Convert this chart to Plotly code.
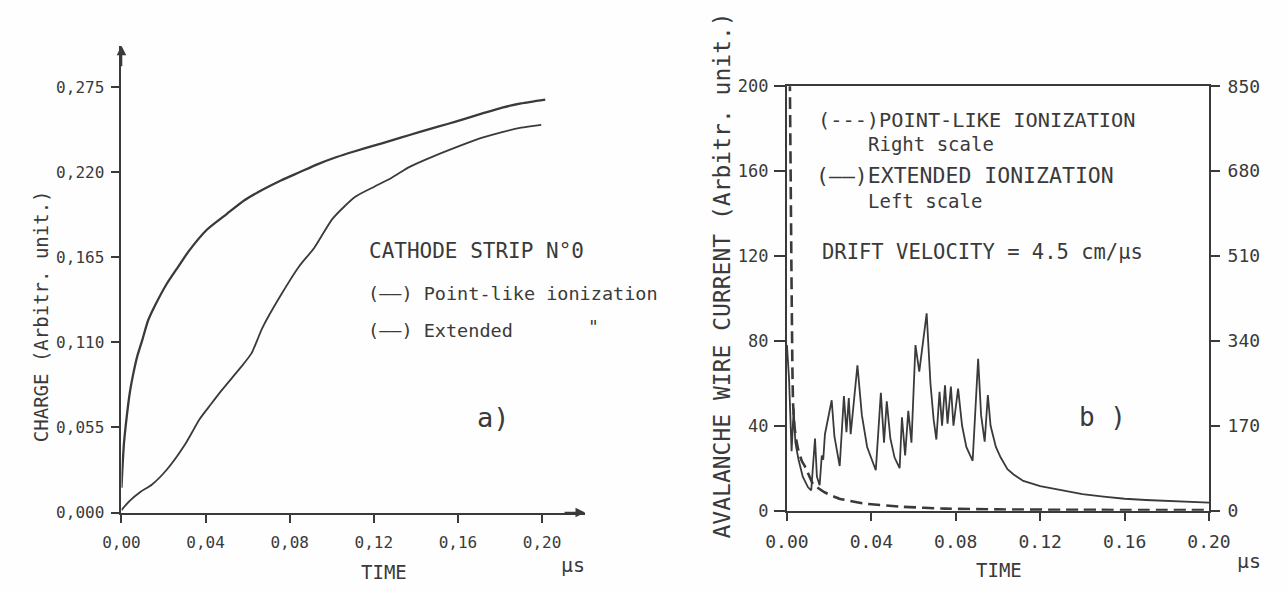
import plotly.graph_objects as go

W, H = 1288, 592
INK = "#3a3a3a"
FONT = "DejaVu Sans Mono"

# ---------------- data: panel a) ----------------
t_point = [0, 0.0005, 0.0012, 0.0025, 0.0039, 0.0055, 0.0074, 0.010, 0.0126, 0.016,
           0.0214, 0.027, 0.032, 0.0407, 0.050, 0.0583, 0.0675, 0.0758, 0.0846, 0.0934,
           0.102, 0.111, 0.120, 0.1285, 0.137, 0.146, 0.155, 0.1636, 0.172, 0.181, 0.190, 0.2015]
q_point = [0.016, 0.030, 0.045, 0.062, 0.077, 0.089, 0.1005, 0.112, 0.124, 0.134,
           0.1476, 0.159, 0.169, 0.183, 0.193, 0.2018, 0.209, 0.2147, 0.220, 0.2253,
           0.2297, 0.2336, 0.2372, 0.2406, 0.2441, 0.2477, 0.2512, 0.2547, 0.2582, 0.2618, 0.2645, 0.267]

t_ext = [0, 0.0039, 0.0091, 0.0144, 0.0214, 0.0302, 0.0372, 0.0425, 0.0478, 0.0565,
         0.0618, 0.067, 0.0758, 0.0846, 0.0917, 0.1004, 0.111, 0.120, 0.1285, 0.137,
         0.146, 0.155, 0.1636, 0.172, 0.181, 0.190, 0.1996]
q_ext = [0.0016, 0.0075, 0.0134, 0.018, 0.0275, 0.044, 0.0605, 0.070, 0.0793, 0.0935,
         0.1029, 0.1194, 0.1406, 0.1594, 0.1712, 0.190, 0.204, 0.2105, 0.2165, 0.2235,
         0.229, 0.234, 0.2385, 0.2425, 0.246, 0.2488, 0.2507]

a_xticks = [0, 0.04, 0.08, 0.12, 0.16, 0.20]
a_xlabels = ["0,00", "0,04", "0,08", "0,12", "0,16", "0,20"]
a_yticks = [0, 0.055, 0.110, 0.165, 0.220, 0.275]
a_ylabels = ["0,000", "0,055", "0,110", "0,165", "0,220", "0,275"]

# ---------------- data: panel b) ----------------
t_spiky = [0.0000, 0.0010, 0.0022, 0.0032, 0.0040, 0.0055, 0.0075, 0.0100, 0.0115, 0.0133,
           0.0142, 0.0155, 0.0165, 0.0172, 0.0180, 0.0192, 0.0212, 0.0225, 0.0250, 0.0270,
           0.0282, 0.0293, 0.0302, 0.0334, 0.0355, 0.0380, 0.0421, 0.0445, 0.0460, 0.0473,
           0.0490, 0.0510, 0.0534, 0.0545, 0.0560, 0.0575, 0.0590, 0.0609, 0.0627, 0.0662,
           0.0680, 0.0695, 0.0708, 0.0723, 0.0735, 0.0749, 0.0761, 0.0777, 0.0789, 0.0811,
           0.0830, 0.0850, 0.0880, 0.0906, 0.0920, 0.0937, 0.0952, 0.0965, 0.0990, 0.1013,
           0.1045, 0.1074, 0.1120, 0.1200, 0.1300, 0.1400, 0.1500, 0.1600, 0.1700, 0.1800,
           0.1900, 0.2000]
v_spiky = [78, 62, 28, 48, 32, 24, 16, 11, 9.5, 34,
           16, 12, 26, 24, 36, 42, 52, 35, 21, 54,
           37, 53, 36, 68.5, 45, 30, 19, 55.5, 32, 51.5,
           34, 25, 20, 44, 26, 47, 32, 78, 65.5, 93,
           60, 43, 33.5, 56, 40, 59, 41, 58.5, 40, 57.5,
           40, 30, 23.5, 71.5, 45, 32.5, 54.5, 40, 30, 25,
           19.5, 17, 14, 11.5, 9.5, 7.8, 6.6, 5.6, 5.0, 4.5,
           4.1, 3.8]

t_dash = [0.0012, 0.0014, 0.0018, 0.0022, 0.0026, 0.0029, 0.0035, 0.0045, 0.0053, 0.0070,
          0.0090, 0.0124, 0.0177, 0.0248, 0.0370, 0.0550, 0.0750, 0.1000, 0.1400, 0.2000]
v_dash = [900, 850, 650, 450, 280, 215, 170, 140, 123, 100,
          85, 53, 37, 24, 14, 7.7, 4.0, 2.5, 1.5, 1.0]

b_xticks = [0, 0.04, 0.08, 0.12, 0.16, 0.20]
b_xlabels = ["0.00", "0.04", "0.08", "0.12", "0.16", "0.20"]
b_yticks = [0, 40, 80, 120, 160, 200]
b_y2ticks = [0, 170, 340, 510, 680, 850]


def fx(px):
    return px / W


def fy(py):
    return 1 - py / H


fig = go.Figure()
fig.add_trace(go.Scatter(x=t_point, y=q_point, mode="lines",
                         line=dict(color=INK, width=2.3, shape="spline", smoothing=0.6),
                         xaxis="x", yaxis="y", showlegend=False, hoverinfo="skip"))
fig.add_trace(go.Scatter(x=t_ext, y=q_ext, mode="lines",
                         line=dict(color=INK, width=1.8, shape="spline", smoothing=0.6),
                         xaxis="x", yaxis="y", showlegend=False, hoverinfo="skip"))
fig.add_trace(go.Scatter(x=t_spiky, y=v_spiky, mode="lines", line=dict(color=INK, width=1.8),
                         xaxis="x2", yaxis="y2", showlegend=False, hoverinfo="skip"))
fig.add_trace(go.Scatter(x=t_dash, y=v_dash, mode="lines",
                         line=dict(color=INK, width=2.6, dash="12px,6px", shape="spline", smoothing=0.4),
                         xaxis="x2", yaxis="y3", showlegend=False, hoverinfo="skip"))


def axbase(size, ticklen, standoff):
    return dict(showgrid=False, zeroline=False, showline=True, linecolor=INK, linewidth=2,
                ticks="outside", tickcolor=INK, tickwidth=2, ticklen=ticklen,
                ticklabelstandoff=standoff,
                tickfont=dict(family=FONT, size=size, color=INK), fixedrange=True)


# panel a geometry (pixels)
a_x0, a_x1, a_xe = 103, 538.5, 583
a_y0, a_y1, a_ye = 520, 79, 36
a_xmax = 0.20 * (a_xe - a_x0) / (a_x1 - a_x0)
a_ymax = 0.275 * (a_y0 - a_ye) / (a_y0 - a_y1)

# panel b geometry
b_x0, b_x1 = 792, 1229
b_y0, b_y1 = 518, 78

layout_axes = dict(
    xaxis=dict(axbase(16, 8, 6), domain=[fx(a_x0), fx(a_xe)], range=[0, a_xmax], anchor="y",
               tickvals=a_xticks, ticktext=a_xlabels),
    yaxis=dict(axbase(16, 8, 4), domain=[fy(a_y0), fy(a_ye)], range=[0, a_ymax], anchor="x",
               tickvals=a_yticks, ticktext=a_ylabels),
    xaxis2=dict(axbase(18, 8, 6), domain=[fx(b_x0), fx(b_x1)], range=[0, 0.2], anchor="y2", mirror=True,
                tickvals=b_xticks, ticktext=b_xlabels),
    yaxis2=dict(axbase(17, 11, 2), domain=[fy(b_y0), fy(b_y1)], range=[0, 200], anchor="x2",
                tickvals=b_yticks),
    yaxis3=dict(axbase(18, 9, 4), domain=[fy(b_y0), fy(b_y1)], range=[0, 850], anchor="x2",
                overlaying="y2", side="right", tickvals=b_y2ticks),
)

ann = []


def text(x, y, s, size=17, xanchor="left", yanchor="middle", angle=0):
    ann.append(dict(x=fx(x), y=fy(y), xref="paper", yref="paper", text=s, showarrow=False,
                    xanchor=xanchor, yanchor=yanchor, textangle=angle,
                    font=dict(family=FONT, size=size, color=INK)))


# panel a texts
text(19, 316, "CHARGE (Arbitr. unit.)", size=19, xanchor="center", angle=-90)
text(375, 582, "TIME", size=19, xanchor="center")
text(556, 574, "μs", size=20, xanchor="left")
text(357, 249, "CATHODE STRIP N°0", size=21)
text(356, 293, "(——) Point-like ionization", size=18.5)
text(356, 331, "(——) Extended", size=18.5)
text(584, 327, "\"", size=18)
text(488, 421, "a)", size=27, xanchor="center")

# panel b texts
text(725, 274, "AVALANCHE WIRE CURRENT (Arbitr. unit.)", size=23, xanchor="center", angle=-90)
text(1012, 580, "TIME", size=19, xanchor="center")
text(1256, 570, "μs", size=20, xanchor="left")
text(822, 113, "(---)POINT-LIKE IONIZATION", size=20.3)
text(874, 138, "Right scale", size=19)
text(820, 171, "(——)EXTENDED IONIZATION", size=21.5)
text(874, 197, "Left scale", size=19)
text(826, 250, "DRIFT VELOCITY = 4.5 cm/μs", size=20.5)
text(1119, 421, "b )", size=26, xanchor="center")

# arrowheads on panel a axes
ann.append(dict(x=a_xmax, y=0, xref="x", yref="y", ax=-22, ay=0, showarrow=True, arrowhead=2,
                arrowsize=1.2, arrowwidth=1.6, arrowcolor=INK, text=""))
ann.append(dict(x=0, y=a_ymax, xref="x", yref="y", ax=0, ay=22, showarrow=True, arrowhead=2,
                arrowsize=1.2, arrowwidth=1.6, arrowcolor=INK, text=""))

fig.update_layout(width=W, height=H, margin=dict(l=0, r=0, t=0, b=0),
                  paper_bgcolor="#fefefe", plot_bgcolor="rgba(0,0,0,0)",
                  showlegend=False, annotations=ann, **layout_axes)

fig.write_html("out.html")
